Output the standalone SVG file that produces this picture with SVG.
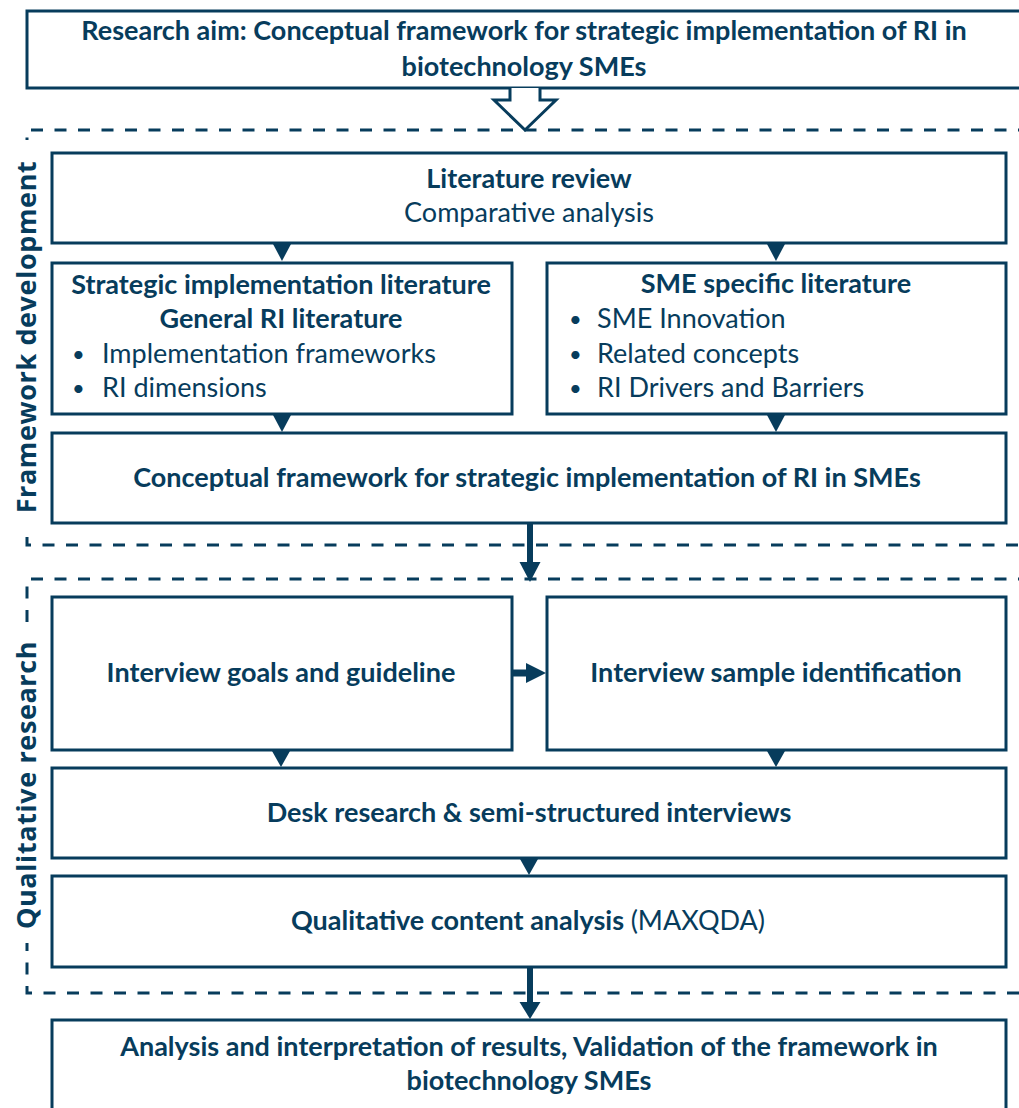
<svg xmlns="http://www.w3.org/2000/svg" width="1019" height="1108" viewBox="0 0 1019 1108">
<style>
.box{fill:#fff;stroke:#073c5c;stroke-width:3}
.t{font-family:Lato,"Liberation Sans",sans-serif;font-size:27px;fill:#073c5c}
.b{font-weight:bold}
.c{text-anchor:middle}
.bu{font-family:Lato,"Liberation Sans",sans-serif;font-size:22px;fill:#073c5c}
.dash{fill:none;stroke:#073c5c;stroke-width:3;stroke-dasharray:12 11.5}
.side{font-family:"Open Sans","Liberation Sans",sans-serif;font-weight:bold;font-size:27px;letter-spacing:0.6px;fill:#073c5c;text-anchor:middle}
.ah{fill:#073c5c}
.ln{stroke:#073c5c;fill:none}
</style>
<rect width="1019" height="1108" fill="#fff"/>
<g id="frames">
<path class="dash" d="M1030,130 H27 V545 H1030"/>
<path class="dash" d="M1030,579 H27 V993 H1030"/>
</g>
<g id="label-framework">
<rect x="10" y="140" width="38" height="391" fill="#fff"/>
<text class="side" transform="translate(36,337) rotate(-90)">Framework development</text>
</g>
<g id="label-qualitative">
<rect x="10" y="626" width="38" height="317" fill="#fff"/>
<text class="side" transform="translate(36,785) rotate(-90)">Qualitative research</text>
</g>
<g id="aim">
<rect class="box" x="27" y="11" width="995" height="77"/>
<text class="t b c" x="524" y="40">Research aim: Conceptual framework for strategic implementation of RI in</text>
<text class="t b c" x="524" y="76">biotechnology SMEs</text>
</g>
<g id="lit">
<rect class="box" x="52" y="153" width="954" height="90"/>
<text class="t b c" x="529" y="188">Literature review</text>
<text class="t c" x="529" y="222">Comparative analysis</text>
</g>
<g id="general">
<rect class="box" x="52" y="263" width="460" height="151"/>
<text class="t b c" x="281" y="294">Strategic implementation literature</text>
<text class="t b c" x="281" y="328">General RI literature</text>
<text class="bu" x="72" y="362">•</text><text class="t" x="102" y="363">Implementation frameworks</text>
<text class="bu" x="72" y="396">•</text><text class="t" x="102" y="397">RI dimensions</text>
</g>
<g id="sme">
<rect class="box" x="547" y="263" width="459" height="151"/>
<text class="t b c" x="776" y="293">SME specific literature</text>
<text class="bu" x="569" y="327">•</text><text class="t" x="597" y="328">SME Innovation</text>
<text class="bu" x="569" y="362">•</text><text class="t" x="597" y="363">Related concepts</text>
<text class="bu" x="569" y="396">•</text><text class="t" x="597" y="397">RI Drivers and Barriers</text>
</g>
<g id="concept">
<rect class="box" x="52" y="433" width="954" height="90"/>
<text class="t b c" x="527" y="487">Conceptual framework for strategic implementation of RI in SMEs</text>
</g>
<g id="int-goals">
<rect class="box" x="52" y="597" width="460" height="153"/>
<text class="t b c" x="281" y="682">Interview goals and guideline</text>
</g>
<g id="int-sample">
<rect class="box" x="547" y="597" width="459" height="153"/>
<text class="t b c" x="776" y="682">Interview sample identification</text>
</g>
<g id="desk">
<rect class="box" x="52" y="768" width="954" height="90"/>
<text class="t b c" x="529" y="822">Desk research &amp; semi-structured interviews</text>
</g>
<g id="qca">
<rect class="box" x="52" y="876" width="954" height="91"/>
<text class="t c" x="528" y="930"><tspan class="b">Qualitative content analysis </tspan>(MAXQDA)</text>
</g>
<g id="final">
<rect class="box" x="52" y="1020" width="954" height="100"/>
<text class="t b c" x="529" y="1056">Analysis and interpretation of results, Validation of the framework in</text>
<text class="t b c" x="529" y="1090">biotechnology SMEs</text>
</g>
<g id="connectors">
<path class="box" d="M510,88 V100 H494 L525,130 L556,100 H540 V88"/>
<polygon class="ah" points="273,244 291,244 282,261"/>
<polygon class="ah" points="767,244 785,244 776,261"/>
<polygon class="ah" points="273,415 291,415 282,432"/>
<polygon class="ah" points="767,415 785,415 776,432"/>
<polygon class="ah" points="272,751 290,751 281,767"/>
<polygon class="ah" points="767,751 785,751 776,767"/>
<polygon class="ah" points="520,859 538,859 529,875"/>
<line class="ln" x1="530" y1="523" x2="530" y2="564" stroke-width="6"/>
<polygon class="ah" points="519.5,562 540.5,562 530,582"/>
<line class="ln" x1="530" y1="967" x2="530" y2="1004" stroke-width="6"/>
<polygon class="ah" points="519.5,1002 540.5,1002 530,1019"/>
<line class="ln" x1="512" y1="673" x2="528" y2="673" stroke-width="7"/>
<polygon class="ah" points="526,663 526,683 546,673"/>
</g>
</svg>
